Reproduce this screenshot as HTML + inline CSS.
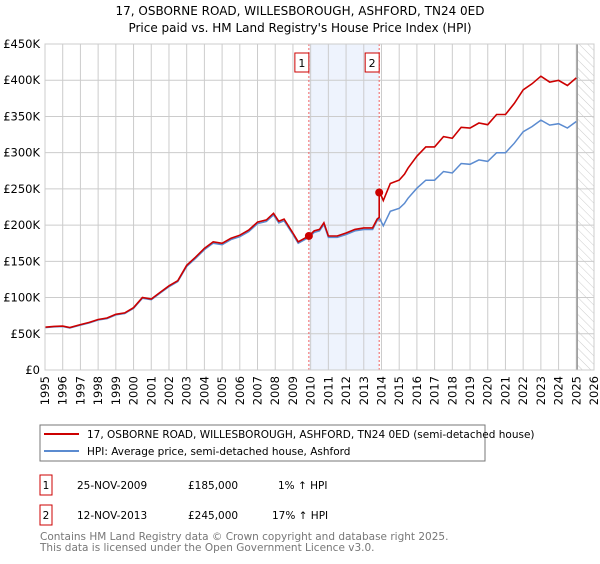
<!DOCTYPE html>
<html><head><meta charset="utf-8"><style>
body{margin:0;background:#fff;font-family:"DejaVu Sans","Liberation Sans",sans-serif;}
svg text{font-family:"DejaVu Sans","Liberation Sans",sans-serif;}
</style></head><body>
<svg id="c" width="600" height="560" xmlns="http://www.w3.org/2000/svg">
<defs><pattern id="hatch" width="6" height="6" patternUnits="userSpaceOnUse" patternTransform="rotate(-45)"><line x1="0" y1="0" x2="0" y2="6" stroke="#ccc" stroke-width="1"/></pattern></defs>
<text x="300" y="15" text-anchor="middle" font-size="12" fill="#000">17, OSBORNE ROAD, WILLESBOROUGH, ASHFORD, TN24 0ED</text>
<text x="300" y="32" text-anchor="middle" font-size="12" fill="#000">Price paid vs. HM Land Registry's House Price Index (HPI)</text>
<g id="plot"></g>
<rect x="40" y="425" width="445" height="36" fill="#fff" stroke="#777"/>
<line x1="44" y1="434" x2="79" y2="434" stroke="#cc0000" stroke-width="2"/>
<text x="87" y="438" font-size="10.5">17, OSBORNE ROAD, WILLESBOROUGH, ASHFORD, TN24 0ED (semi-detached house)</text>
<line x1="44" y1="451" x2="79" y2="451" stroke="#5b8bd0" stroke-width="2"/>
<text x="87" y="455" font-size="10.5">HPI: Average price, semi-detached house, Ashford</text>
<g font-size="10.5">
<rect x="40" y="475" width="12" height="20" fill="#fff" stroke="#cc0000"/>
<text x="46" y="489" text-anchor="middle">1</text>
<text x="77" y="489">25-NOV-2009</text>
<text x="188" y="489">£185,000</text>
<text x="278" y="489">1% ↑ HPI</text>
<rect x="40" y="505" width="12" height="20" fill="#fff" stroke="#cc0000"/>
<text x="46" y="519" text-anchor="middle">2</text>
<text x="77" y="519">12-NOV-2013</text>
<text x="188" y="519">£245,000</text>
<text x="272" y="519">17% ↑ HPI</text>
</g>
<text x="40" y="540" font-size="10.5" fill="#777">Contains HM Land Registry data © Crown copyright and database right 2025.</text>
<text x="40" y="551" font-size="10.5" fill="#777">This data is licensed under the Open Government Licence v3.0.</text>
</svg>
<script>
const years=[1995,1995.5,1996,1996.4,1997,1997.5,1998,1998.5,1999,1999.5,2000,2000.5,2001,2001.5,2002,2002.5,2003,2003.5,2004,2004.5,2005,2005.5,2006,2006.5,2007,2007.5,2007.9,2008.2,2008.5,2009,2009.3,2009.9,2010.2,2010.5,2010.75,2011,2011.5,2012,2012.5,2013,2013.5,2013.75,2013.9,2014.1,2014.5,2015,2015.3,2015.5,2016,2016.5,2017,2017.5,2018,2018.5,2019,2019.5,2020,2020.5,2021,2021.5,2022,2022.5,2023,2023.5,2024,2024.5,2025];
const hpi=[58.5,59.5,60,58,62,65,69,71,76,78,85,99,97,106,115,122,143,154,166,175,173,180,184,191,202,205,214,203,206,187,175,183,190,192,201,183,183,187,192,194,194,206,209,199,219,223,230,237,251,262,262,274,272,285,284,290,288,300,300,313,329,336,345,338,340,334,343];
const saleYears=[2009.9,2013.87];
const salePrices=[185,245];
const saleLabels=["1","2"];
const yTicks=[0,50,100,150,200,250,300,350,400,450];
const yTickLabels=["£0","£50K","£100K","£150K","£200K","£250K","£300K","£350K","£400K","£450K"];
const xTicks=[1995,1996,1997,1998,1999,2000,2001,2002,2003,2004,2005,2006,2007,2008,2009,2010,2011,2012,2013,2014,2015,2016,2017,2018,2019,2020,2021,2022,2023,2024,2025,2026];
const x0=45,x1=594,y0=370,y1=44;
const X=t=>x0+(t-1995)/(2026-1995)*(x1-x0);
const Y=v=>y0-v/450*(y0-y1);
const ns="http://www.w3.org/2000/svg";
const g=document.getElementById('plot');
function mk(tag,attrs){const e=document.createElementNS(ns,tag);for(const k in attrs)e.setAttribute(k,attrs[k]);g.appendChild(e);return e;}
function hpiAt(t){for(let i=0;i<years.length-1;i++){if(t>=years[i]&&t<=years[i+1]){const f=(t-years[i])/(years[i+1]-years[i]);return hpi[i]+f*(hpi[i+1]-hpi[i]);}}return hpi[hpi.length-1];}
let band=mk('rect',{x:X(saleYears[0]),y:y1,width:X(saleYears[1])-X(saleYears[0]),height:y0-y1,fill:'#eef3fd'});


let hat=mk('rect',{x:X(2025.05),y:y1,width:x1-X(2025.05),height:y0-y1,fill:'url(#hatch)'});


yTicks.forEach((v,i)=>{
 let l=mk('line',{x1:x0,x2:x1,y1:Y(v),y2:Y(v),stroke:'#ccc'});
 
 
 let t=mk('text',{x:x0-5,y:Y(v)+4,'text-anchor':'end','font-size':'11.5'});t.textContent=yTickLabels[i];
 
 
});
xTicks.forEach(yr=>{
 let l=mk('line',{x1:X(yr),x2:X(yr),y1:y1,y2:y0,stroke:'#ccc'});
 
 
 let t=mk('text',{x:0,y:0,'text-anchor':'end','font-size':'11.5',transform:`translate(${X(yr)+4},${y0+6}) rotate(-90)`});t.textContent=yr;
 
 
});
let vl=mk('line',{x1:X(2025.05),x2:X(2025.05),y1:y1,y2:y0,stroke:'#999','stroke-width':1.5});


saleYears.forEach((s,i)=>{
 let l=mk('line',{x1:X(s),x2:X(s),y1:y1,y2:y0,stroke:'#f06060','stroke-dasharray':'2,2'});
 
 
 let r=mk('rect',{x:X(s)-14,y:53,width:14,height:19,fill:'#fff',stroke:'#cc0000'});
 
 
 let t=mk('text',{x:X(s)-7,y:67,'text-anchor':'middle','font-size':'11'});t.textContent=saleLabels[i];
 
 
});
let hp=mk('path',{d:years.map((t,i)=>(i?'L':'M')+X(t).toFixed(1)+','+Y(hpi[i]).toFixed(1)).join(''),fill:'none',stroke:'#5b8bd0','stroke-width':1.5});


const f0=salePrices[0]/hpiAt(saleYears[0]),f1=salePrices[1]/hpiAt(saleYears[1]);
let pts=[];
years.forEach((t,i)=>{if(t<saleYears[1]) pts.push([t,hpi[i]*f0]);});
pts.push([saleYears[1],hpiAt(saleYears[1])*f0]);
pts.push([saleYears[1],salePrices[1]]);
years.forEach((t,i)=>{if(t>saleYears[1]) pts.push([t,hpi[i]*f1]);});
let pp=mk('path',{d:pts.map((p,i)=>(i?'L':'M')+X(p[0]).toFixed(1)+','+Y(p[1]).toFixed(1)).join(''),fill:'none',stroke:'#cc0000','stroke-width':1.6});


saleYears.forEach((s,i)=>{
 let c=mk('circle',{cx:X(s),cy:Y(salePrices[i]),r:4,fill:'#cc0000'});
 
 
});
let fr=mk('rect',{x:x0,y:y1,width:x1-x0,height:y0-y1,fill:'none',stroke:'#ccc'});


</script>
</body></html>
